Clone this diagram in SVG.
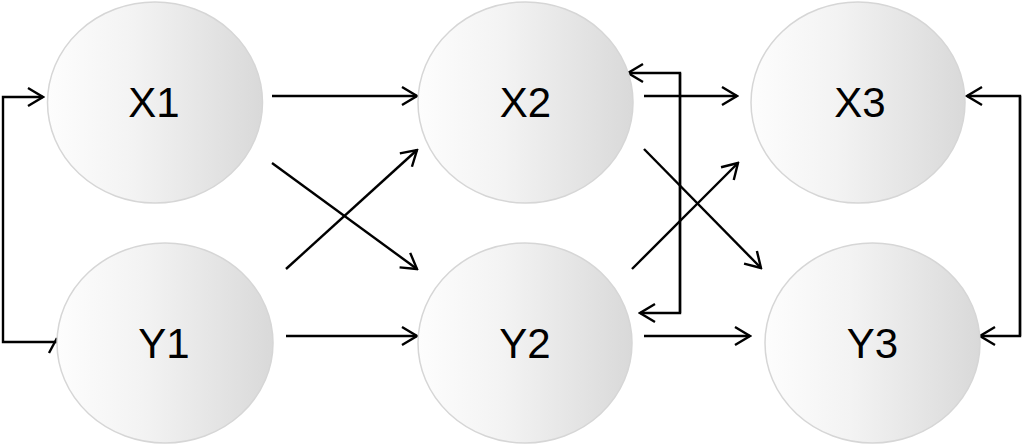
<svg xmlns="http://www.w3.org/2000/svg" width="1024" height="445" viewBox="0 0 1024 445">
<defs>
<linearGradient id="g" x1="0" y1="0" x2="1" y2="0">
<stop offset="0" stop-color="#fdfdfd"/>
<stop offset="0.4" stop-color="#f3f3f3"/>
<stop offset="1" stop-color="#d9d9d9"/>
</linearGradient>
<marker id="a" markerUnits="userSpaceOnUse" viewBox="-17 -11 19 22" refX="0" refY="0" markerWidth="19" markerHeight="22" orient="auto">
<path d="M-15,-9 L0,0 L-15,9" fill="none" stroke="#000" stroke-width="2.4"/>
</marker>
<style>
.n ellipse{fill:url(#g);stroke:#d6d6d6;stroke-width:1.5}
.n text{font-family:"Liberation Sans",Arial,sans-serif;font-size:42px;fill:#000;text-anchor:middle}
.c path,.c line{fill:none;stroke:#000;stroke-width:2.4}
.c .m{marker-end:url(#a)}
</style>
</defs>
<rect width="1024" height="445" fill="#fff"/>
<g class="c" id="connectors">
<line class="m" x1="272" y1="96" x2="417" y2="96"/>
<line class="m" x1="272" y1="163" x2="417" y2="269"/>
<line class="m" x1="286" y1="269" x2="417" y2="150"/>
<line class="m" x1="286" y1="336" x2="417" y2="336"/>
<path class="m" d="M57,342 L3,342 L3,97 L43,97"/>
<line x1="49" y1="353" x2="57" y2="338"/>
<line class="m" x1="644" y1="96" x2="737" y2="96"/>
<line class="m" x1="644" y1="149" x2="761" y2="268"/>
<line class="m" x1="632" y1="269" x2="738" y2="163"/>
<line class="m" x1="644" y1="336" x2="750" y2="336"/>
<path class="m" d="M680,313 L680,73 L628,73"/>
<path class="m" d="M680,73 L680,313 L640,313"/>
<path class="m" d="M1020,336 L1020,96 L967,96"/>
<path class="m" d="M1020,96 L1020,336 L980,336"/>
</g>
<g class="n" id="X1"><ellipse cx="155" cy="102.5" rx="107.5" ry="100.5"/><text x="154" y="117">X1</text></g>
<g class="n" id="Y1"><ellipse cx="165" cy="343" rx="108" ry="100"/><text x="164" y="358">Y1</text></g>
<g class="n" id="X2"><ellipse cx="525.5" cy="102.5" rx="107.5" ry="100.5"/><text x="525.5" y="117">X2</text></g>
<g class="n" id="Y2"><ellipse cx="525" cy="343" rx="107" ry="100"/><text x="525" y="358">Y2</text></g>
<g class="n" id="X3"><ellipse cx="858" cy="102.5" rx="107" ry="100.5"/><text x="860" y="117">X3</text></g>
<g class="n" id="Y3"><ellipse cx="872.5" cy="343" rx="107.5" ry="100"/><text x="872.5" y="358">Y3</text></g>
</svg>
